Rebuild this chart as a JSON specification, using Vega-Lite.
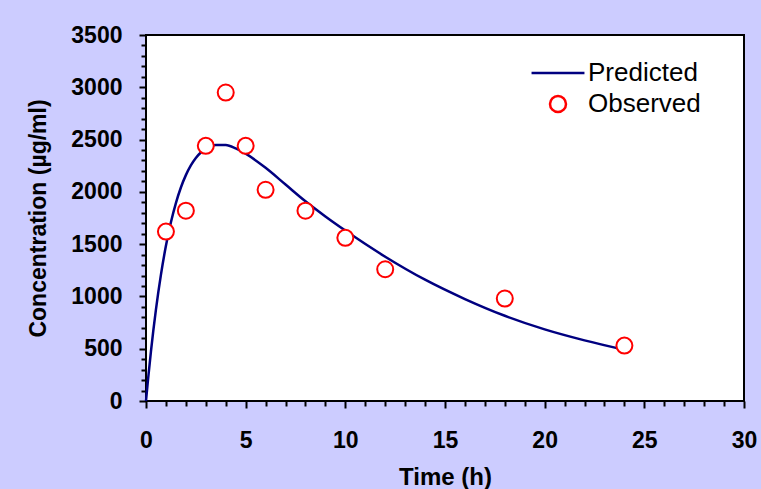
{
  "$schema": "https://vega.github.io/schema/vega-lite/v6.json",
  "autosize": {"type": "none"},
  "padding": {"left": 146, "top": 35, "right": 17, "bottom": 88},
  "width": 598,
  "height": 366,
  "background": "#ccccff",
  "config": {
    "font": "Liberation Sans",
    "view": {"stroke": "#000000", "strokeWidth": 2, "fill": "#ffffff"},
    "axis": {"domain": false, "grid": false, "tickColor": "#000000", "tickWidth": 2, "labelColor": "#000000", "titleColor": "#000000", "labelFlush": false}
  },
  "datasets": {
    "pk": [
      {"series": "Predicted", "t": 0, "c": 0},
      {"series": "Predicted", "t": 0.1, "c": 201},
      {"series": "Predicted", "t": 0.25, "c": 478},
      {"series": "Predicted", "t": 0.5, "c": 877},
      {"series": "Predicted", "t": 0.75, "c": 1209},
      {"series": "Predicted", "t": 1, "c": 1484},
      {"series": "Predicted", "t": 1.25, "c": 1709},
      {"series": "Predicted", "t": 1.5, "c": 1893},
      {"series": "Predicted", "t": 1.75, "c": 2042},
      {"series": "Predicted", "t": 2, "c": 2160},
      {"series": "Predicted", "t": 2.25, "c": 2253},
      {"series": "Predicted", "t": 2.5, "c": 2324},
      {"series": "Predicted", "t": 2.75, "c": 2376},
      {"series": "Predicted", "t": 3, "c": 2413},
      {"series": "Predicted", "t": 3.5, "c": 2449},
      {"series": "Predicted", "t": 4, "c": 2447},
      {"series": "Predicted", "t": 4.5, "c": 2415},
      {"series": "Predicted", "t": 5, "c": 2365},
      {"series": "Predicted", "t": 6, "c": 2230},
      {"series": "Predicted", "t": 7, "c": 2070},
      {"series": "Predicted", "t": 8, "c": 1910},
      {"series": "Predicted", "t": 9, "c": 1765},
      {"series": "Predicted", "t": 10, "c": 1630},
      {"series": "Predicted", "t": 12, "c": 1380},
      {"series": "Predicted", "t": 14, "c": 1160},
      {"series": "Predicted", "t": 16, "c": 975},
      {"series": "Predicted", "t": 18, "c": 815},
      {"series": "Predicted", "t": 20, "c": 685},
      {"series": "Predicted", "t": 22, "c": 580},
      {"series": "Predicted", "t": 24, "c": 490},
      {"series": "Observed", "t": 1, "c": 1620},
      {"series": "Observed", "t": 2, "c": 1820},
      {"series": "Observed", "t": 3, "c": 2440},
      {"series": "Observed", "t": 4, "c": 2950},
      {"series": "Observed", "t": 5, "c": 2440},
      {"series": "Observed", "t": 6, "c": 2020},
      {"series": "Observed", "t": 8, "c": 1820},
      {"series": "Observed", "t": 10, "c": 1560},
      {"series": "Observed", "t": 12, "c": 1260},
      {"series": "Observed", "t": 18, "c": 980},
      {"series": "Observed", "t": 24, "c": 530}
    ]
  },
  "data": {"name": "pk"},
  "layer": [
    {
      "transform": [{"filter": "datum.series === 'Predicted'"}],
      "mark": {"type": "line", "strokeWidth": 2.5, "interpolate": "monotone"},
      "encoding": {
        "x": {"field": "t", "type": "quantitative", "scale": {"domain": [0, 30], "nice": false},
          "axis": {"orient": "bottom", "values": [0, 5, 10, 15, 20, 25, 30], "format": "d", "tickSize": 7, "labelFontSize": 23, "labelFontWeight": "bold", "labelPadding": 21, "title": "Time (h)", "titleFontSize": 24, "titleFontWeight": "bold", "titlePadding": 13}},
        "y": {"field": "c", "type": "quantitative", "scale": {"domain": [0, 3500], "nice": false},
          "axis": {"orient": "left", "values": [0, 500, 1000, 1500, 2000, 2500, 3000, 3500], "format": "d", "tickSize": 7, "labelFontSize": 23, "labelFontWeight": "bold", "labelPadding": 17, "title": "Concentration (µg/ml)", "titleFontSize": 23, "titleFontWeight": "bold", "titlePadding": 20}},
        "color": {"field": "series", "type": "nominal",
          "scale": {"domain": ["Predicted", "Observed"], "range": ["#000080", "#ff0000"]},
          "legend": {"title": null, "orient": "none", "legendX": 384, "legendY": 10, "labelFontSize": 26, "labelColor": "#000000", "labelOffset": 2, "rowPadding": 5, "padding": 0, "symbolStrokeWidth": 2.5}}
      }
    },
    {
      "transform": [{"filter": "datum.series === 'Observed'"}],
      "mark": {"type": "point", "filled": false, "fill": "#ffffff", "strokeWidth": 2, "opacity": 1},
      "encoding": {
        "x": {"field": "t", "type": "quantitative",
          "axis": {"orient": "bottom", "values": [1,2,3,4,6,7,8,9,11,12,13,14,16,17,18,19,21,22,23,24,26,27,28,29], "tickSize": 5, "labels": false, "title": null}},
        "y": {"field": "c", "type": "quantitative",
          "axis": {"orient": "left", "values": [100,200,300,400,600,700,800,900,1100,1200,1300,1400,1600,1700,1800,1900,2100,2200,2300,2400,2600,2700,2800,2900,3100,3200,3300,3400], "tickSize": 5, "labels": false, "title": null}},
        "color": {"field": "series", "type": "nominal"},
        "shape": {"field": "series", "type": "nominal", "scale": {"domain": ["Predicted", "Observed"], "range": ["stroke", "circle"]}},
        "size": {"field": "series", "type": "nominal", "scale": {"domain": ["Predicted", "Observed"], "range": [2800, 256]}}
      }
    }
  ],
  "resolve": {"axis": {"x": "independent", "y": "independent"}}
}
